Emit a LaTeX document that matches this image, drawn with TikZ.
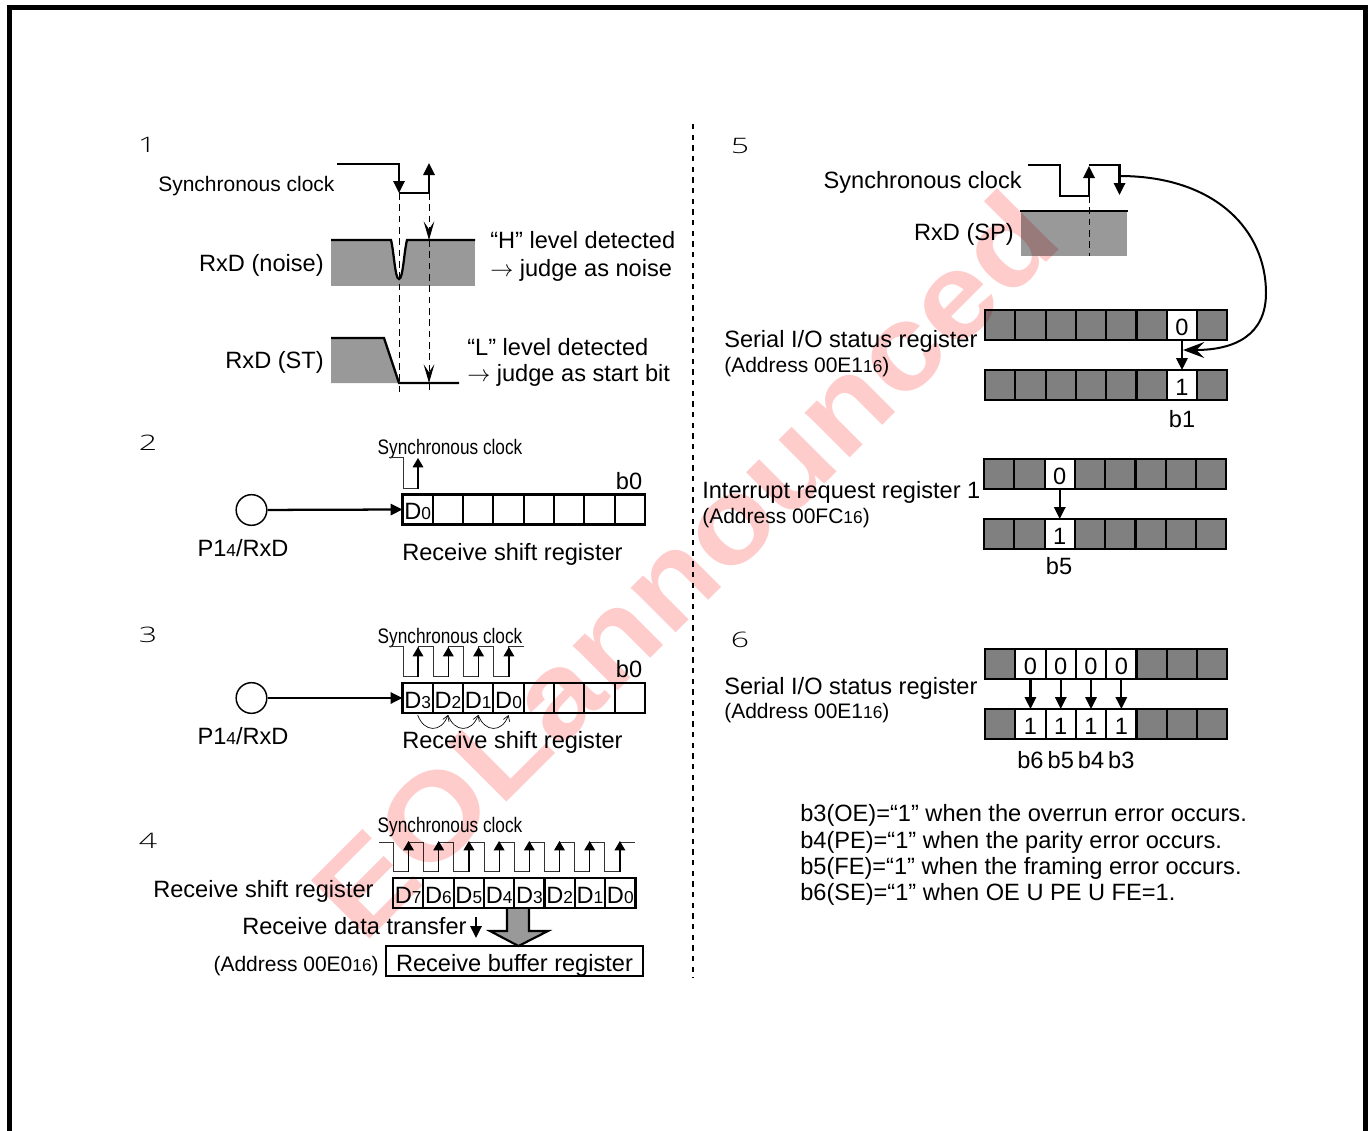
\documentclass[tikz,border=0pt]{standalone}
\usepackage{fontspec}
\setmainfont{Liberation Sans}
\newfontfamily\numfont{Open Sans Light}
\usetikzlibrary{arrows.meta,positioning,calc}
\definecolor{cGray}{HTML}{999999}
\definecolor{cCell}{HTML}{808080}
\definecolor{cMark}{HTML}{FFCCCC}
\newcommand{\fsA}{\fontsize{17.7pt}{21pt}\selectfont}
\newcommand{\fsB}{\fontsize{15.75pt}{19pt}\selectfont}
\newcommand{\low}[1]{{\fontsize{13pt}{13pt}\selectfont #1}}
\tikzset{
  txt/.style    = {inner sep=0pt, font=\fsA, anchor=base west},
  txtr/.style   = {txt, anchor=base east},
  txtc/.style   = {txt, anchor=base},
  adr/.style    = {txt, font=\fsB},
  num/.style    = {inner sep=0pt, font=\fontsize{16pt}{16pt}\selectfont\numfont, xscale=1.5, transform shape},
  clklab/.style = {inner sep=0pt, font=\fsB, anchor=base, xscale=.82, transform shape},
  cell/.style   = {draw=black, line width=1.6pt, fill=white, inner sep=0pt, outer sep=0pt,
                   minimum width=22.7pt, minimum height=22.5pt, font=\fsA,
                   text height=15pt, text depth=0pt},
  gcell/.style  = {cell, fill=cCell},
  flow/.style   = {-{Triangle[length=9pt,width=8.5pt]}, line width=1.7pt},
  clk/.style    = {line width=.7pt, black!80},
  rise/.style   = {-{Triangle[length=7pt,width=8pt]}, line width=.9pt},
  wave/.style   = {line width=1.7pt},
  probe/.style  = {line width=.7pt, dash pattern=on 5pt off 3.5pt,
                   -{Stealth[length=14pt,width=8pt,inset=6pt]}},
  shiftarc/.style = {line width=.5pt, -{Straight Barb[length=4pt,width=5pt]}},
  divider/.style  = {line width=2.2pt, dash pattern=on 4pt off 4pt},
  wmark/.style  = {inner sep=0pt, font=\fontsize{90pt}{90pt}\selectfont\bfseries, text=cMark,
                   rotate=45, xscale=1.12, transform shape},
}
\begin{document}
\begin{tikzpicture}[x=.75pt, y=-.75pt]
  \useasboundingbox (0,0) rectangle (1372,1131);
  % frame and divider
  \draw[line width=3.75pt] (9.5,1131) -- (9.5,7.5) -- (1365,7.5) -- (1365,1131);
  \draw[divider] (693,124) -- (693,978);

  % 1
  \node[num] (n1) at (147,145) {1};
  \node[txt, font=\fsB] (t1clk) at (158,191) {Synchronous clock};
  \draw[flow] (337,164) -- (399,164) -- (399,193);
  \draw[flow] (399,193) -- (429,193) -- (429,163);
  \fill[cGray] (331,240) rectangle (475,286);
  \fill[white] (391,240) .. controls (394,252) and (395,279) .. (399,279)
    .. controls (403,279) and (404,252) .. (407,240) -- cycle;
  \draw[wave] (331,240) -- (391,240) .. controls (394,252) and (395,279) .. (399,279)
    .. controls (403,279) and (404,252) .. (407,240) -- (475,240);
  \fill[cGray] (331,338) -- (384,338) -- (399,383) -- (331,383) -- cycle;
  \draw[wave] (331,338) -- (384,338) -- (399,383) -- (459,383);
  \coordinate (c1a) at (429,193);
  \coordinate (c1b) at (429,240);
  \coordinate (c1c) at (429,383);
  \draw[probe, -] (399,193) -- (399,392);
  \draw[probe] (c1a) -- (c1b);
  \draw[probe] (c1b) -- (c1c);
  \draw[probe, -] (c1c) -- (429,392);
  \node[txtr] (t1n) at (324,271) {RxD (noise)};
  \node[txtr] (t1s) at (324,368) {RxD (ST)};
  \node[txt] (t1h) at (490,248) {“H” level detected};
  \node[txt] (t1j) at (490,276) {$\rightarrow$ judge as noise};
  \node[txt] (t1l) at (467,355) {“L” level detected};
  \node[txt] (t1b) at (467,381) {$\rightarrow$ judge as start bit};

  % 2
  \node[num] (n2) at (148,443) {2};
  \node[clklab] (t2clk) at (450,454) {Synchronous clock};
  \draw[clk] (389,457) -- (403,457) -- (403,488) -- (418,488) -- (418,470);
  \draw[rise] (418,489) -- (418,458);
  \foreach \i in {0,...,7}
    \node[cell] (sa\i) at ({417.65+30.3*\i},509.5) {};
  \node[cell] at (sa0) {D\low{0}};
  \node[draw, circle, line width=1.1pt, minimum size=23pt, inner sep=0pt] (p2) at (251.5,510) {};
  \draw[flow] (p2) -- (sa0.west);
  \node[txtc] (t2b) at (629,489) {b0};
  \node[txtc] (t2p) at (243,556) {P1\low{4}/RxD};
  \node[txt] (t2r) at (402,560) {Receive shift register};

  % 3
  \node[num] (n3) at (148,635) {3};
  \node[clklab] (t3clk) at (450,643) {Synchronous clock};
  \draw[clk] (389,646) -- (403,646)
    \foreach \k in {0,1,2,3} { -- ++(0,30) -- ++(15,0) -- ++(0,-30) -- ++(15.3,0) };
  \foreach \k in {0,1,2,3}
    \draw[rise] ({418+30.3*\k},677) -- ({418+30.3*\k},647);
  \foreach \i/\t in {0/D\low{3},1/D\low{2},2/D\low{1},3/D\low{0},4/,5/,6/,7/}
    \node[cell] (sb\i) at ({417.65+30.3*\i},698) {\t};
  \foreach \a/\b in {0/1,1/2,2/3}
    \draw[shiftarc] ($(sb\a.south)+(0,2)$) to[out=-70, in=-110, looseness=1.6] ($(sb\b.south)+(0,2)$);
  \node[draw, circle, line width=1.1pt, minimum size=23pt, inner sep=0pt] (p3) at (251.5,698) {};
  \draw[flow] (p3) -- (sb0.west);
  \node[txtc] (t3b) at (629,677) {b0};
  \node[txtc] (t3p) at (243,744) {P1\low{4}/RxD};
  \node[txt] (t3r) at (402,748) {Receive shift register};

  % 4
  \node[num] (n4) at (148,841) {4};
  \node[clklab] (t4clk) at (450,832) {Synchronous clock};
  \draw[clk] (379,842) -- (393.5,842)
    \foreach \k in {0,...,7} { -- ++(0,29) -- ++(15,0) -- ++(0,-29) -- ++(15.2,0) };
  \foreach \k in {0,...,7}
    \draw[rise] ({408.5+30.2*\k},872) -- ({408.5+30.2*\k},841);
  \foreach \i/\t in {0/7,1/6,2/5,3/4,4/3,5/2,6/1,7/0}
    \node[cell] (sc\i) at ({408.2+30.3*\i},893) {D\low{\t}};
  \node[txt] (t4r) at (153,897) {Receive shift register};
  \node[txt] (t4d) at (242,934) {Receive data transfer};
  \coordinate (t4u) at (476,917);
  \coordinate (t4v) at (476,938);
  \draw[flow] (t4u) -- (t4v);
  \node[cell, minimum width=192.5pt, text height=15pt] (buf) at (514.5,961) {Receive buffer register};
  \draw[fill=cGray, line width=1.6pt] (507,909) -- (507,931) -- (490,931) -- (518.5,946)
    -- (548,931) -- (529,931) -- (529,909);
  \node[adr, anchor=base east] (t4a) at (379,971) {(Address 00E0\low{16})};

  % 5
  \node[num] (n5) at (740,146) {5};
  \node[txtr] (t5clk) at (1022,188) {Synchronous clock};
  \draw[flow] (1028,165) -- (1060,165) -- (1060,196) -- (1089,196) -- (1089,166);
  \draw[flow] (1089,165) -- (1119.5,165) -- (1119.5,195);
  \fill[cGray] (1021,211) rectangle (1127,256);
  \draw[wave] (1020,211) -- (1128,211);
  \draw[line width=.7pt, dash pattern=on 5pt off 3.5pt] (1089,196) -- (1089,256);
  \node[txtr] (t5s) at (1014,240) {RxD (SP)};
  \foreach \i in {0,...,5,7} {
    \node[gcell] (ra\i) at ({1000.15+30.3*\i},325) {};
    \node[gcell] (rb\i) at ({1000.15+30.3*\i},385) {};
  }
  \node[cell] (ra6) at ({1000.15+30.3*6},325) {0};
  \node[cell] (rb6) at ({1000.15+30.3*6},385) {1};
  \draw[flow] (ra6) -- (rb6.north);
  \coordinate (ckb) at (1119.5,176);
  \coordinate (tap) at (1183,350);
  \draw[line width=1.5pt, -{Stealth[length=16pt,width=12pt,inset=6pt]}] (ckb) .. controls (1215,176) and (1266,230) .. (1266,293)
    .. controls (1266,335) and (1235,350) .. (tap);
  \node[txtc] (t5b) at (1182,427) {b1};
  \node[txt] (t5r) at (724,347) {Serial I/O status register};
  \node[adr] (t5a) at (724,372) {(Address 00E1\low{16})};

  \foreach \i in {0,1,3,4,5,6,7} {
    \node[gcell] (qa\i) at ({999.15+30.3*\i},474) {};
    \node[gcell] (qb\i) at ({999.15+30.3*\i},534) {};
  }
  \node[cell] (qa2) at ({999.15+30.3*2},474) {0};
  \node[cell] (qb2) at ({999.15+30.3*2},534) {1};
  \draw[flow] (qa2) -- (qb2.north);
  \node[txtc] (t5c) at (1059,574) {b5};
  \node[txt] (t5i) at (702,498) {Interrupt request register 1};
  \node[adr] (t5f) at (702,523) {(Address 00FC\low{16})};

  % 6
  \node[num] (n6) at (740,640) {6};
  \foreach \i in {0,5,6,7} {
    \node[gcell] (ua\i) at ({1000.15+30.3*\i},664) {};
    \node[gcell] (ub\i) at ({1000.15+30.3*\i},724) {};
  }
  \foreach \i/\b in {1/6,2/5,3/4,4/3} {
    \node[cell] (ua\i) at ({1000.15+30.3*\i},664) {0};
    \node[cell] (ub\i) at ({1000.15+30.3*\i},724) {1};
    \draw[flow] (ua\i) -- (ub\i.north);
    \node[txtc] (b\b) at (ub\i |- 0,768) {b\b};
  }
  \node[txt] (t6r) at (724,694) {Serial I/O status register};
  \node[adr] (t6a) at (724,718) {(Address 00E1\low{16})};

  \node[txt] (l1) at (800,821) {b3(OE)=“1” when the overrun error occurs.};
  \node[txt] (l2) at (800,848) {b4(PE)=“1” when the parity error occurs.};
  \node[txt] (l3) at (800,874) {b5(FE)=“1” when the framing error occurs.};
  \node[txt] (l4) at (800,900) {b6(SE)=“1” when OE U PE U FE=1.};

  % watermark
  \begin{scope}[blend mode=multiply]
    \node[wmark] (wm) at (684,564) {EOLannounced};
  \end{scope}
\end{tikzpicture}
\end{document}
